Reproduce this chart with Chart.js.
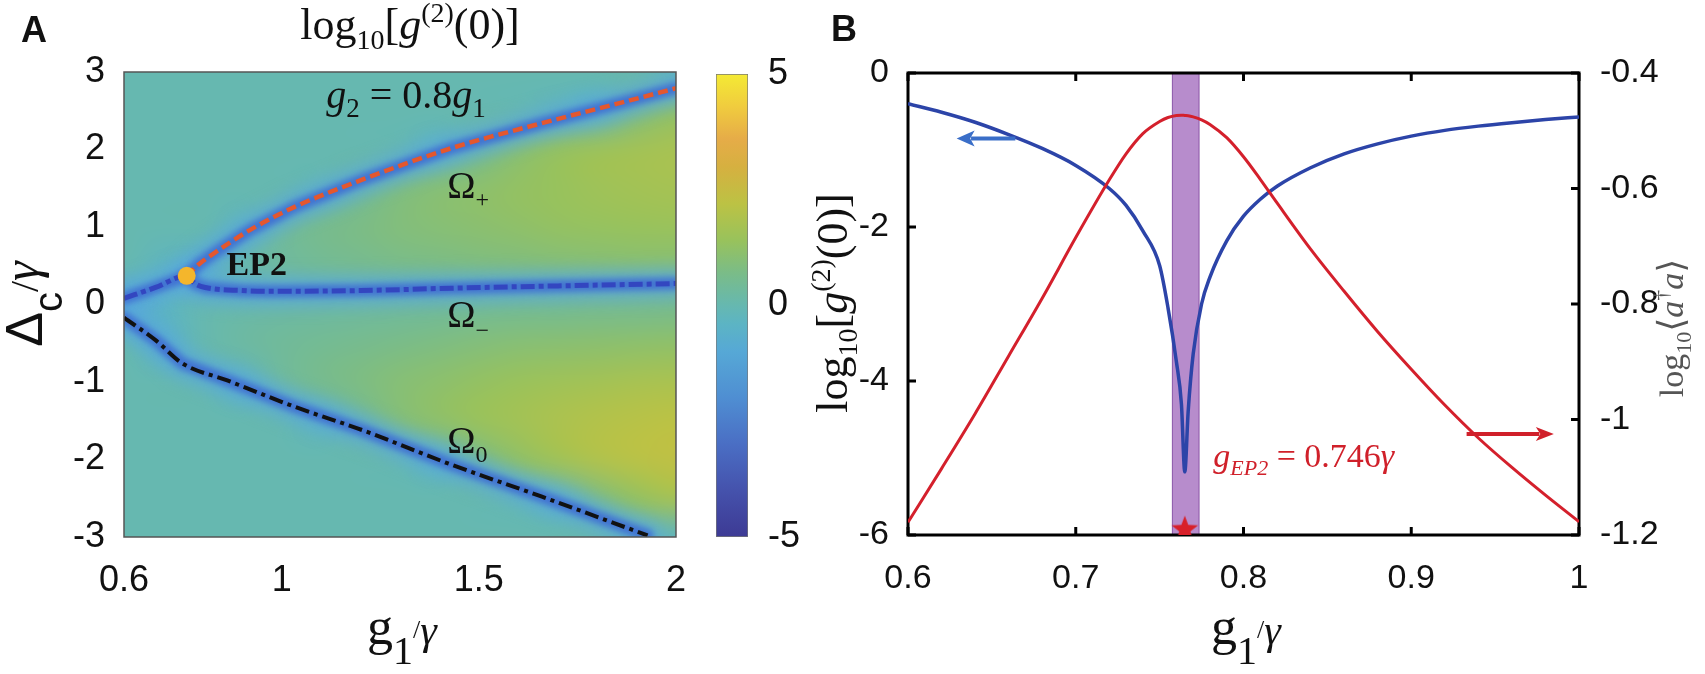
<!DOCTYPE html>
<html>
<head>
<meta charset="utf-8">
<script src="https://cdn.jsdelivr.net/npm/chart.js@4.4.1/dist/chart.umd.min.js"></script>
<style>
  html, body { margin: 0; padding: 0; background: #fff; }
  #wrap { position: relative; width: 1705px; height: 674px; overflow: hidden; }
  canvas { position: absolute; top: 0; }
  #cA { left: 0; }
  #cBar { left: 700px; }
  #cB { left: 790px; }
</style>
</head>
<body>
<div id="wrap">
  <canvas id="cA" width="700" height="674"></canvas>
  <canvas id="cBar" width="120" height="674"></canvas>
  <canvas id="cB" width="915" height="674"></canvas>
</div>
<script>
// ---- panel A: log10 g2(0) map, g2 = 0.8 g1 ----
const aXTicks = [0.6, 1, 1.5, 2];
const heatX = [0.6, 0.7, 0.8, 0.9, 1.0, 1.1, 1.2, 1.3, 1.4, 1.5, 1.6, 1.7, 1.8, 1.9, 2.0];
const heatY = [3, 2.5, 2, 1.5, 1, 0.5, 0, -0.5, -1, -1.5, -2, -2.5, -3];
const heatZ = [
  [0, 0, 0, 0, 0, 0, 0, 0, 0, 0, 0, 0, 0, 0, -0.2],
  [0, 0, 0, 0, 0, 0, 0, 0, 0, 0, 0, -0.1, -0.2, 0.8, 1.2],
  [0, 0, 0, 0, 0, 0, 0, 0, -0.2, 0.5, 1.0, 1.3, 1.5, 1.65, 1.75],
  [0, 0, 0, 0, 0, 0, 0.4, 0.8, 1.0, 1.15, 1.3, 1.4, 1.55, 1.65, 1.7],
  [0, 0, 0, -0.2, 0.35, 0.6, 0.75, 0.9, 1.0, 1.1, 1.2, 1.3, 1.35, 1.4, 1.45],
  [0, -0.3, -0.3, 0.1, 0.3, 0.45, 0.55, 0.65, 0.72, 0.8, 0.85, 0.9, 0.95, 1.0, 1.0],
  [-1.0, -0.4, 0, 0.1, 0.2, 0.25, 0.3, 0.35, 0.4, 0.45, 0.5, 0.5, 0.55, 0.55, 0.6],
  [0, -0.5, 0, 0.25, 0.4, 0.5, 0.6, 0.7, 0.8, 0.9, 1.0, 1.05, 1.1, 1.15, 1.2],
  [0, 0, 0, -0.3, 0.3, 0.6, 0.8, 1.0, 1.15, 1.3, 1.45, 1.55, 1.65, 1.75, 1.8],
  [0, 0, 0, 0, 0, -0.2, 0.4, 0.9, 1.2, 1.45, 1.65, 1.85, 2.0, 2.1, 2.2],
  [0, 0, 0, 0, 0, 0, 0, 0, -0.2, 0.7, 1.2, 1.6, 1.95, 2.15, 2.3],
  [0, 0, 0, 0, 0, 0, 0, 0, 0, 0, 0, -0.1, 0.8, 1.3, 1.7],
  [0, 0, 0, 0, 0, 0, 0, 0, 0, 0, 0, 0, 0, 0, -0.3]
];
const omegaPlusX = [0.759, 0.79, 0.828, 0.919, 1.033, 1.204, 1.432, 1.66, 1.888, 2.0];
const omegaPlusY = [0.37, 0.52, 0.66, 0.96, 1.26, 1.61, 2.02, 2.34, 2.64, 2.79];
const omegaMinusX = [0.6, 0.68, 0.759, 0.78, 0.806, 0.9, 0.975, 1.2, 1.43, 1.7, 2.0];
const omegaMinusY = [0.08, 0.22, 0.37, 0.27, 0.22, 0.18, 0.17, 0.18, 0.21, 0.24, 0.27];
const omegaZeroX = [0.6, 0.68, 0.748, 0.862, 1.033, 1.204, 1.432, 1.66, 1.928];
const omegaZeroY = [-0.17, -0.46, -0.76, -0.98, -1.32, -1.62, -2.07, -2.48, -2.98];
const epPoint = [0.759, 0.37];

// colour bar
const cbTicks = [-5, 0, 5];
const cmapVals = [-5, -4, -3, -2, -1, -0.4, 0, 0.7, 1.4, 2.2, 3.0, 3.6, 4.3, 5];
const cmapCols = ['#3d3a94', '#4552ac', '#4a6ec4', '#4f8ed2', '#56a8d6', '#5cb4c4', '#66b8b0',
                  '#7abc88', '#98c25c', '#bcc244', '#d6b040', '#e6ac48', '#f0cc3e', '#f4ea34'];

// ---- panel B ----
const bX = [0.60, 0.62, 0.64, 0.66, 0.68, 0.70, 0.72, 0.73, 0.74, 0.75, 0.755, 0.76, 0.763, 0.765,
            0.767, 0.77, 0.775, 0.78, 0.79, 0.80, 0.81, 0.82, 0.84, 0.86, 0.88, 0.90, 0.92, 0.94, 0.96, 0.98, 1.00];
const bG2 = [-0.40, -0.51, -0.64, -0.80, -0.98, -1.20, -1.50, -1.72, -2.05, -2.50, -3.05, -3.75, -4.3, -5.18,
             -4.4, -3.65, -3.0, -2.65, -2.18, -1.86, -1.64, -1.47, -1.23, -1.05, -0.92, -0.82, -0.745, -0.69, -0.645, -0.605, -0.57];
const bNum = [-1.178, -1.085, -0.99, -0.89, -0.79, -0.685, -0.585, -0.54, -0.505, -0.484, -0.477, -0.4735, -0.473, -0.4735,
              -0.474, -0.476, -0.481, -0.489, -0.512, -0.545, -0.584, -0.625, -0.705, -0.778, -0.848, -0.913, -0.975, -1.032, -1.083, -1.131, -1.177];
const bandRange = [0.7576, 0.7735];
const starPoint = [0.765, -5.93];
const blueArrow = [0.664, 0.629, -0.85];   // from, to, y (left axis)
const redArrow = [0.933, 0.985, -1.025];   // from, to, y (right axis)

const SANS = '"Liberation Sans", Arial, sans-serif';
const NARROW = '"Liberation Sans Narrow", "Liberation Sans", Arial, sans-serif';
const SERIF = '"Liberation Serif", "DejaVu Serif", serif';
Chart.defaults.font.family = SANS;

function zip(xs, ys) { return xs.map((x, i) => ({ x: x, y: ys[i] })); }

function hexRgb(h) { return [1, 3, 5].map(i => parseInt(h.substr(i, 2), 16)); }
function cmap(v) {
  if (v <= cmapVals[0]) return hexRgb(cmapCols[0]);
  for (let i = 1; i < cmapVals.length; i++) {
    if (v <= cmapVals[i]) {
      const t = (v - cmapVals[i - 1]) / (cmapVals[i] - cmapVals[i - 1]);
      const a = hexRgb(cmapCols[i - 1]), b = hexRgb(cmapCols[i]);
      return a.map((c, k) => Math.round(c + (b[k] - c) * t));
    }
  }
  return hexRgb(cmapCols[cmapCols.length - 1]);
}

// text made of pieces: [text, font, dy]
function rich(ctx, parts, x, y, align) {
  let w = 0;
  parts.forEach(p => { ctx.font = p[1]; w += ctx.measureText(p[0]).width; });
  let cx = align === 'center' ? x - w / 2 : x;
  ctx.textAlign = 'left';
  ctx.textBaseline = 'alphabetic';
  parts.forEach(p => {
    ctx.font = p[1];
    ctx.fillText(p[0], cx, y + (p[2] || 0));
    cx += ctx.measureText(p[0]).width;
  });
}
function richRot(ctx, parts, x, y) {
  ctx.save();
  ctx.translate(x, y);
  ctx.rotate(-Math.PI / 2);
  rich(ctx, parts, 0, 0, 'center');
  ctx.restore();
}

const gTitle = [['g', '52px ' + SERIF], ['1', '40px ' + SERIF, 20], ['/', '26px ' + SERIF, -6],
                ['γ', 'italic 42px ' + SERIF]];
const tickFont = { family: NARROW, size: 36 };

// ---------- panel A ----------
const heatPlugin = {
  id: 'heat',
  beforeDatasetsDraw(chart) {
    const { ctx, chartArea: a, scales: { x, y } } = chart;
    const off = document.createElement('canvas');
    off.width = heatX.length;
    off.height = heatY.length;
    const octx = off.getContext('2d');
    const img = octx.createImageData(off.width, off.height);
    heatZ.forEach((row, j) => row.forEach((v, i) => {
      const c = cmap(v), k = (j * off.width + i) * 4;
      img.data[k] = c[0]; img.data[k + 1] = c[1]; img.data[k + 2] = c[2]; img.data[k + 3] = 255;
    }));
    octx.putImageData(img, 0, 0);
    const hx = (heatX[1] - heatX[0]) / 2, hy = (heatY[0] - heatY[1]) / 2;
    const x0 = x.getPixelForValue(heatX[0] - hx), x1 = x.getPixelForValue(heatX[heatX.length - 1] + hx);
    const y0 = y.getPixelForValue(heatY[0] + hy), y1 = y.getPixelForValue(heatY[heatY.length - 1] - hy);
    ctx.save();
    ctx.beginPath();
    ctx.rect(a.left, a.top, a.width, a.height);
    ctx.clip();
    ctx.imageSmoothingEnabled = true;
    ctx.imageSmoothingQuality = 'high';
    ctx.drawImage(off, x0, y0, x1 - x0, y1 - y0);

    // dark valleys of g2 that follow the three eigen-frequency lines
    ctx.lineJoin = 'round';
    ctx.lineCap = 'round';
    const glow = (meta, w, col, blur) => {
      ctx.filter = 'blur(' + blur + 'px)';
      ctx.strokeStyle = col;
      ctx.lineWidth = w;
      ctx.beginPath();
      meta.data.forEach((p, i) => i ? ctx.lineTo(p.x, p.y) : ctx.moveTo(p.x, p.y));
      ctx.stroke();
    };
    [1, 2, 3].forEach(i => glow(chart.getDatasetMeta(i), 30, 'rgba(88,168,222,0.75)', 8));
    [1, 2, 3].forEach(i => glow(chart.getDatasetMeta(i), 12, 'rgba(62,108,210,0.9)', 3));
    ctx.filter = 'none';
    ctx.restore();
  },
  afterDraw(chart) {
    const { ctx, chartArea: a, scales: { x, y } } = chart;
    ctx.save();
    ctx.strokeStyle = '#555';
    ctx.lineWidth = 1.5;
    ctx.strokeRect(a.left, a.top, a.width, a.height);

    ctx.fillStyle = '#111';
    ctx.font = 'bold 36px ' + SANS;
    ctx.fillText('A', 21, 42);
    rich(ctx, [['log', '44px ' + SERIF], ['10', '28px ' + SERIF, 10], ['[', '44px ' + SERIF],
               ['g', 'italic 44px ' + SERIF], ['(2)', '28px ' + SERIF, -17], ['(0)]', '44px ' + SERIF]], 410, 39, 'center');
    rich(ctx, gTitle, 402, 644, 'center');
    richRot(ctx, [['Δ', '52px ' + SANS], ['c', '40px ' + SANS, 20], ['/', '40px ' + SERIF, -4],
                  ['γ', 'italic 50px ' + SERIF, -4]], 42, 304);

    // labels inside the map
    const px = v => x.getPixelForValue(v), py = v => y.getPixelForValue(v);
    rich(ctx, [['g', 'italic 40px ' + SERIF], ['2', '27px ' + SERIF, 9], [' = 0.8', '40px ' + SERIF],
               ['g', 'italic 40px ' + SERIF], ['1', '27px ' + SERIF, 9]], px(1.315), py(2.53), 'center');
    rich(ctx, [['Ω', '38px ' + SERIF], ['+', '24px ' + SERIF, 9]], px(1.42), py(1.374), 'left');
    rich(ctx, [['Ω', '38px ' + SERIF], ['−', '24px ' + SERIF, 11]], px(1.42), py(-0.29), 'left');
    rich(ctx, [['Ω', '38px ' + SERIF], ['0', '24px ' + SERIF, 9]], px(1.42), py(-1.92), 'left');
    rich(ctx, [['EP2', 'bold 34px ' + SERIF]], px(0.86), py(0.38), 'left');
    ctx.restore();
  }
};

new Chart(document.getElementById('cA'), {
  type: 'line',
  data: {
    datasets: [
      { type: 'scatter', data: [{ x: epPoint[0], y: epPoint[1] }], pointRadius: 9,
        backgroundColor: '#f4b62c', borderWidth: 0 },
      { data: zip(omegaPlusX, omegaPlusY), borderColor: '#e4572e', borderWidth: 4.5, borderDash: [10, 5],
        pointRadius: 0, cubicInterpolationMode: 'monotone' },
      { data: zip(omegaMinusX, omegaMinusY), borderColor: '#3346c0', borderWidth: 5, borderDash: [14, 4, 5, 4],
        pointRadius: 0, cubicInterpolationMode: 'monotone' },
      { data: zip(omegaZeroX, omegaZeroY), borderColor: '#111', borderWidth: 4, borderDash: [14, 5, 4, 5],
        pointRadius: 0, cubicInterpolationMode: 'monotone' }
    ]
  },
  options: {
    responsive: false,
    animation: false,
    layout: { padding: { top: 72, right: 12, left: 0, bottom: 0 } },
    plugins: { legend: { display: false }, tooltip: { enabled: false } },
    scales: {
      x: {
        type: 'linear', min: 0.6, max: 2,
        afterBuildTicks: s => { s.ticks = aXTicks.map(v => ({ value: v })); },
        afterFit: s => { s.height = 137; },
        grid: { display: false }, border: { display: false },
        ticks: { font: tickFont, color: '#111', padding: 14, maxRotation: 0, autoSkip: false, callback: v => String(v) }
      },
      y: {
        min: -3, max: 3,
        afterFit: s => { s.width = 124; },
        grid: { display: false }, border: { display: false },
        ticks: { stepSize: 1, font: tickFont, color: '#111', padding: 11, autoSkip: false, callback: v => String(v) }
      }
    }
  },
  plugins: [heatPlugin]
});

// ---------- colour bar ----------
new Chart(document.getElementById('cBar'), {
  type: 'bar',
  data: {
    labels: ['c'],
    datasets: [{
      data: [[-5, 5]],
      backgroundColor: c => {
        const ys = c.chart.scales.y;
        if (!c.chart.chartArea || !ys) return cmapCols[6];
        const g = c.chart.ctx.createLinearGradient(0, ys.getPixelForValue(-5), 0, ys.getPixelForValue(5));
        cmapVals.forEach((v, i) => g.addColorStop((v + 5) / 10, cmapCols[i]));
        return g;
      },
      borderColor: '#777', borderWidth: 1, borderSkipped: false,
      barPercentage: 1, categoryPercentage: 1
    }]
  },
  options: {
    responsive: false,
    animation: false,
    layout: { padding: { top: 74, left: 16, right: 0, bottom: 137 } },
    plugins: { legend: { display: false }, tooltip: { enabled: false } },
    scales: {
      x: { display: false },
      y: {
        position: 'right', min: -5, max: 5,
        afterBuildTicks: s => { s.ticks = cbTicks.map(v => ({ value: v })); },
        afterFit: s => { s.width = 72; },
        grid: { display: false }, border: { display: false },
        ticks: { font: tickFont, color: '#111', padding: 12, callback: v => String(v) }
      }
    }
  }
});

// ---------- panel B ----------
function makeStar(r, color) {
  const c = document.createElement('canvas');
  c.width = c.height = 2 * r + 2;
  const g = c.getContext('2d');
  g.fillStyle = color;
  g.beginPath();
  for (let k = 0; k < 10; k++) {
    const ang = -Math.PI / 2 + k * Math.PI / 5, rr = k % 2 ? r * 0.42 : r;
    g.lineTo(r + 1 + rr * Math.cos(ang), r + 1 + rr * Math.sin(ang));
  }
  g.closePath();
  g.fill();
  return c;
}

function arrow(ctx, x0, x1, y, col, w, hl, hw) {
  const dir = Math.sign(x1 - x0);
  ctx.strokeStyle = col;
  ctx.fillStyle = col;
  ctx.lineWidth = w;
  ctx.beginPath();
  ctx.moveTo(x0, y);
  ctx.lineTo(x1 - dir * hl * 0.8, y);
  ctx.stroke();
  ctx.beginPath();
  ctx.moveTo(x1, y);
  ctx.lineTo(x1 - dir * hl, y - hw);
  ctx.lineTo(x1 - dir * hl * 0.75, y);
  ctx.lineTo(x1 - dir * hl, y + hw);
  ctx.closePath();
  ctx.fill();
}

const framePlugin = {
  id: 'frameB',
  beforeDatasetsDraw(chart) {
    const { ctx, chartArea: a, scales: { x, y, y1 } } = chart;
    ctx.save();
    const b0 = x.getPixelForValue(bandRange[0]), b1 = x.getPixelForValue(bandRange[1]);
    ctx.fillStyle = 'rgba(170,120,195,0.85)';
    ctx.fillRect(b0, a.top, b1 - b0, a.height);
    ctx.strokeStyle = '#8a55a8';
    ctx.lineWidth = 1;
    ctx.strokeRect(b0, a.top, b1 - b0, a.height);

    ctx.strokeStyle = '#000';
    ctx.lineWidth = 3;
    ctx.strokeRect(a.left, a.top, a.width, a.height);
    const L = 8;
    ctx.beginPath();
    x.ticks.forEach(t => {
      const p = x.getPixelForValue(t.value);
      ctx.moveTo(p, a.bottom); ctx.lineTo(p, a.bottom - L);
      ctx.moveTo(p, a.top); ctx.lineTo(p, a.top + L);
    });
    y.ticks.forEach(t => {
      const p = y.getPixelForValue(t.value);
      ctx.moveTo(a.left, p); ctx.lineTo(a.left + L, p);
    });
    y1.ticks.forEach(t => {
      const p = y1.getPixelForValue(t.value);
      ctx.moveTo(a.right, p); ctx.lineTo(a.right - L, p);
    });
    ctx.stroke();
    ctx.restore();
  },
  afterDatasetsDraw(chart) {
    const { ctx, scales: { x, y, y1 } } = chart;
    ctx.save();
    arrow(ctx, x.getPixelForValue(blueArrow[0]), x.getPixelForValue(blueArrow[1]),
          y.getPixelForValue(blueArrow[2]), '#3a6ec8', 4, 18, 8);
    arrow(ctx, x.getPixelForValue(redArrow[0]), x.getPixelForValue(redArrow[1]),
          y1.getPixelForValue(redArrow[2]), '#d0202a', 4, 18, 7);
    ctx.fillStyle = '#d0202a';
    rich(ctx, [['g', 'italic 34px ' + SERIF], ['EP2', 'italic 22px ' + SERIF, 8], [' = 0.746', '34px ' + SERIF],
               ['γ', 'italic 34px ' + SERIF]], x.getPixelForValue(0.782), y.getPixelForValue(-5.12), 'left');
    ctx.restore();
  },
  afterDraw(chart) {
    const ctx = chart.ctx;
    ctx.save();
    ctx.fillStyle = '#111';
    ctx.font = 'bold 36px ' + SANS;
    ctx.fillText('B', 41, 41);
    rich(ctx, gTitle, 456, 644, 'center');
    richRot(ctx, [['log', '44px ' + SERIF], ['10', '28px ' + SERIF, 10], ['[', '44px ' + SERIF],
                  ['g', 'italic 44px ' + SERIF], ['(2)', '28px ' + SERIF, -17], ['(0)]', '44px ' + SERIF]], 57, 303);
    ctx.fillStyle = '#555';
    richRot(ctx, [['log', '34px ' + SERIF], ['10', '22px ' + SERIF, 8], ['⟨', '36px ' + SERIF],
                  ['a', 'italic 34px ' + SERIF], ['†', '22px ' + SERIF, -15], ['a', 'italic 34px ' + SERIF],
                  ['⟩', '36px ' + SERIF]], 893, 328);
    ctx.restore();
  }
};

const bTickFont = { family: NARROW, size: 34 };
new Chart(document.getElementById('cB'), {
  type: 'line',
  data: {
    datasets: [
      { type: 'scatter', data: [{ x: starPoint[0], y: starPoint[1] }], yAxisID: 'y',
        pointStyle: makeStar(14, '#d8202a'), pointRadius: 14 },
      { data: zip(bX, bNum), yAxisID: 'y1', borderColor: '#d4202c', borderWidth: 3,
        pointRadius: 0, cubicInterpolationMode: 'monotone' },
      { data: zip(bX, bG2), yAxisID: 'y', borderColor: '#2c44a8', borderWidth: 3.5,
        pointRadius: 0, cubicInterpolationMode: 'monotone' }
    ]
  },
  options: {
    responsive: false,
    animation: false,
    layout: { padding: { top: 73, right: 0, left: 0, bottom: 0 } },
    plugins: { legend: { display: false }, tooltip: { enabled: false } },
    scales: {
      x: {
        type: 'linear', min: 0.6, max: 1,
        afterFit: s => { s.height = 139; },
        grid: { display: false }, border: { display: false },
        ticks: { stepSize: 0.1, font: bTickFont, color: '#111', padding: 15, maxRotation: 0, autoSkip: false,
                 callback: v => String(Number(v.toFixed(1))) }
      },
      y: {
        position: 'left', min: -6, max: 0,
        afterFit: s => { s.width = 118; },
        grid: { display: false }, border: { display: false },
        ticks: { stepSize: 2, font: bTickFont, color: '#111', padding: 11, callback: v => String(v) }
      },
      y1: {
        position: 'right', min: -1.2, max: -0.4,
        afterFit: s => { s.width = 126; },
        grid: { display: false }, border: { display: false },
        ticks: { stepSize: 0.2, font: bTickFont, color: '#111', padding: 13, autoSkip: false,
                 callback: v => String(Number(v.toFixed(1))) }
      }
    }
  },
  plugins: [framePlugin]
});
</script>
</body>
</html>
